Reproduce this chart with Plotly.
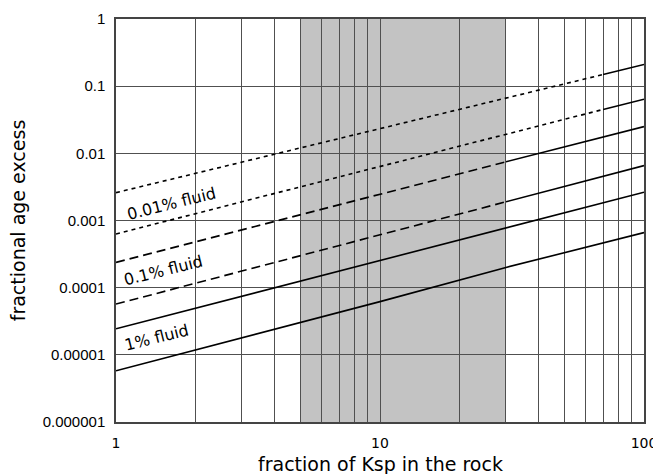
import math
import plotly.graph_objects as go

# ---- data ----
line1_x = [1, 10, 70]
line1_y = [0.0026, 0.0233, 0.149]
line1_sx = [70, 100]
line1_sy = [0.149, 0.21]

line2_x = [1, 10, 70]
line2_y = [0.00063, 0.0064, 0.045]
line2_sx = [70, 100]
line2_sy = [0.045, 0.064]

line3_x = [1, 10, 30]
line3_y = [0.000238, 0.00244, 0.0075]
line3_sx = [30, 100]
line3_sy = [0.0075, 0.025]

line4_x = [1, 10, 30]
line4_y = [5.7e-5, 0.00061, 0.0019]
line4_sx = [30, 100]
line4_sy = [0.0019, 0.00656]

line5_x = [1, 10, 30, 100]
line5_y = [2.44e-5, 0.000254, 0.00077, 0.00264]

line6_x = [1, 10, 30, 100]
line6_y = [5.8e-6, 6.2e-5, 0.0002, 0.00066]

shade_range = [5, 30]

x_tickvals = [1, 2, 3, 4, 5, 6, 7, 8, 9, 10, 20, 30, 40, 50, 60, 70, 80, 90, 100]
x_ticktext = ["1"] + [""] * 8 + ["10"] + [""] * 8 + ["100"]
y_tickvals = [1e-6, 1e-5, 1e-4, 1e-3, 1e-2, 1e-1, 1]
y_ticktext = ["0.000001", "0.00001", "0.0001", "0.001", "0.01", "0.1", "1"]

labels = [
    ("0.01% fluid", 1.625, 0.00181),
    ("0.1% fluid", 1.51, 0.000179),
    ("1% fluid", 1.426, 0.0000182),
]

fig = go.Figure()

DOT = "4px,4px"
DASH = "9px,5px"

def add(x, y, dash, w=1.6):
    fig.add_trace(go.Scatter(x=x, y=y, mode="lines",
                             line=dict(color="black", width=w, dash=dash),
                             showlegend=False, hoverinfo="skip"))

add(line1_x, line1_y, DOT)
add(line1_sx, line1_sy, "solid")
add(line2_x, line2_y, DOT)
add(line2_sx, line2_sy, "solid")
add(line3_x, line3_y, DASH)
add(line3_sx, line3_sy, "solid")
add(line4_x, line4_y, DASH)
add(line4_sx, line4_sy, "solid")
add(line5_x, line5_y, "solid")
add(line6_x, line6_y, "solid")

fig.add_shape(type="rect", xref="x", yref="paper",
              x0=shade_range[0], x1=shade_range[1], y0=0, y1=1,
              fillcolor="#c3c3c3", line=dict(width=0), layer="below")

for txt, lx, ly in labels:
    fig.add_annotation(x=math.log10(lx), y=math.log10(ly),
                       xref="x", yref="y", text=txt, showarrow=False,
                       textangle=-14,
                       font=dict(family="DejaVu Sans", size=16, color="black"))

fig.add_annotation(x=0.5, y=-0.104, xref="paper", yref="paper",
                   xanchor="center", yanchor="middle",
                   text="fraction of Ksp in the rock", showarrow=False,
                   font=dict(family="DejaVu Sans", size=19, color="black"))
fig.add_annotation(x=-0.186, y=0.5, xref="paper", yref="paper",
                   xanchor="center", yanchor="middle",
                   text="fractional age excess", showarrow=False, textangle=-90,
                   font=dict(family="DejaVu Sans", size=19, color="black"))

fig.update_xaxes(type="log", range=[0, 2], tickvals=x_tickvals, ticktext=x_ticktext,
                 showgrid=True, gridcolor="#505050", gridwidth=1,
                 showline=True, linecolor="#444444", linewidth=1.5, mirror=True,
                 ticks="", ticklabelstandoff=7, zeroline=False,
                 ticklabeloverflow="allow", automargin=False,
                 tickfont=dict(family="DejaVu Sans", size=14, color="black"))
fig.update_yaxes(type="log", range=[-6, 0], tickvals=y_tickvals, ticktext=y_ticktext,
                 showgrid=True, gridcolor="#505050", gridwidth=1,
                 showline=True, linecolor="#444444", linewidth=1.5, mirror=True,
                 ticks="", ticklabelstandoff=6, zeroline=False, automargin=False,
                 tickfont=dict(family="Liberation Sans", size=15, color="black"))

fig.update_layout(width=653, height=474,
                  margin=dict(l=116, r=9, t=19, b=52, autoexpand=False),
                  plot_bgcolor="white", paper_bgcolor="white")

fig.write_html("out.html")
